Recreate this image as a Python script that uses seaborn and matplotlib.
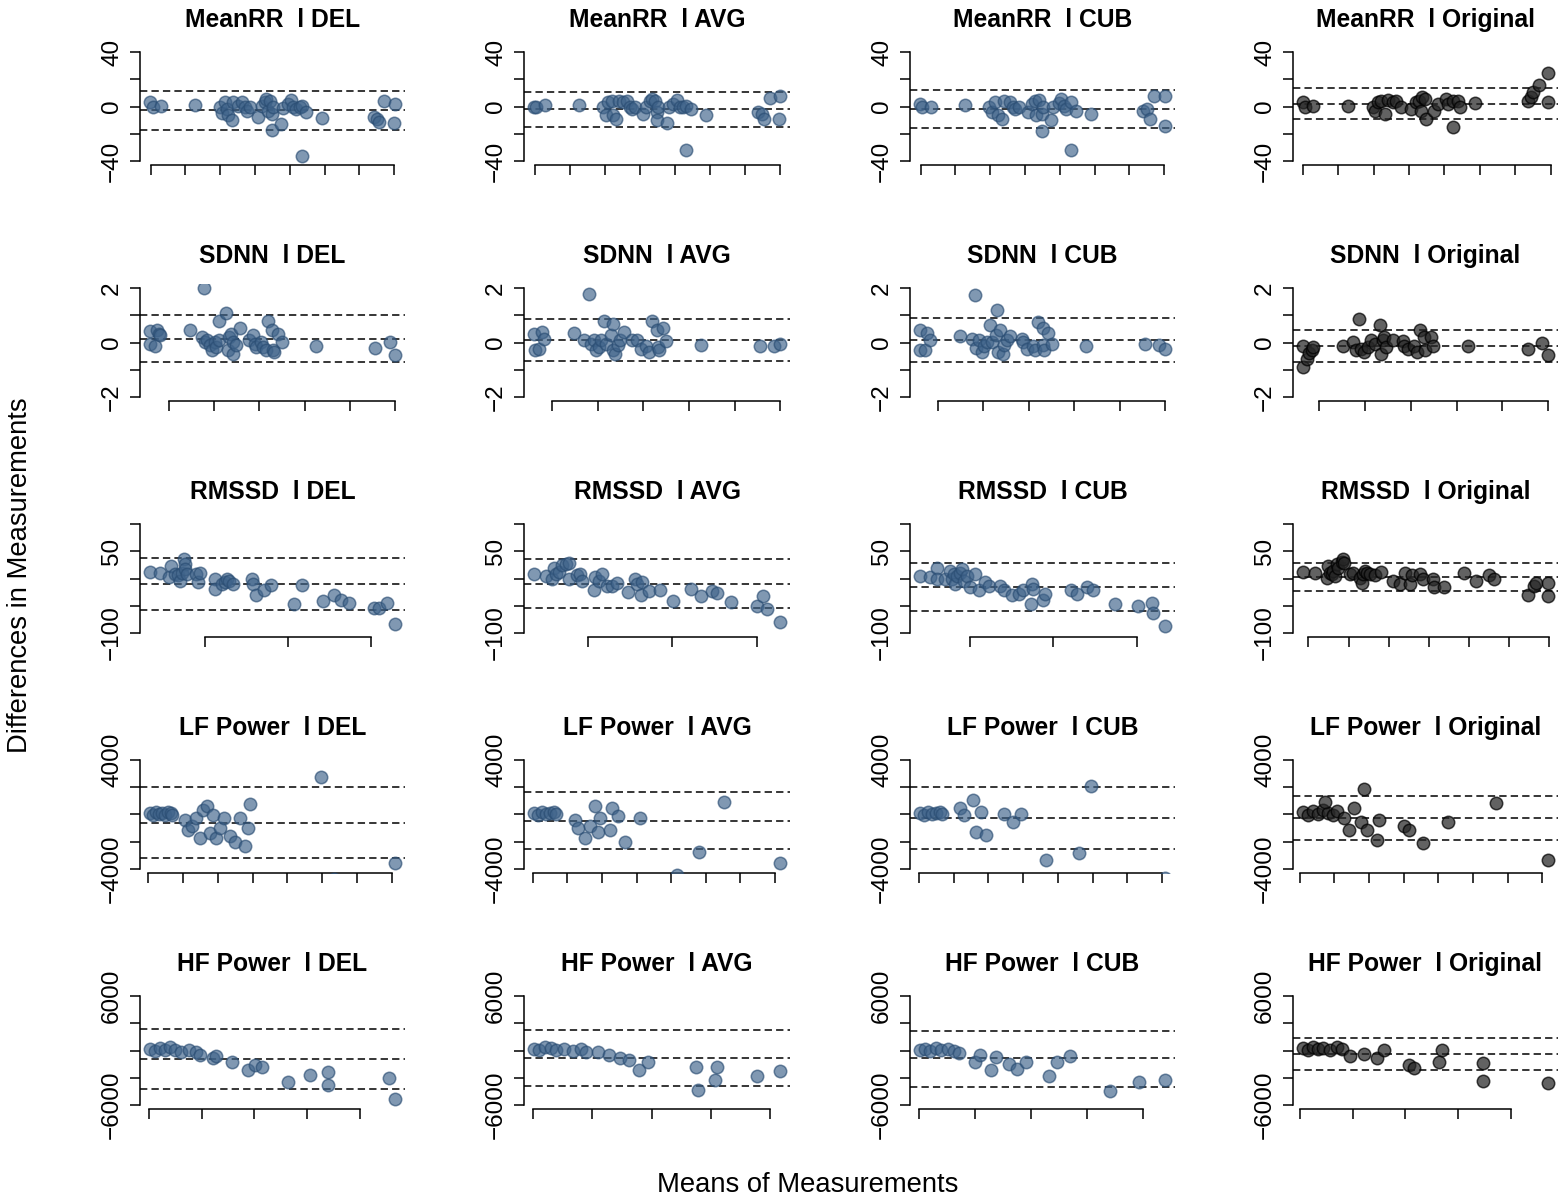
import matplotlib
matplotlib.use("Agg")
import matplotlib.pyplot as plt
import seaborn as sns

sns.set_style("white")
plt.rcParams["font.family"] = ["Liberation Sans", "DejaVu Sans"]
plt.rcParams["text.color"] = "black"

methods = ["DEL", "AVG", "CUB", "Original"]
metrics = ["MeanRR", "SDNN", "RMSSD", "LF Power", "HF Power"]

# ---------------- MeanRR ----------------
meanrr_x = {
    "DEL": [598, 607, 629, 727, 800, 805, 814, 819, 824, 833, 838, 852, 862, 871, 876, 886, 910, 919, 929, 933, 938, 943, 948, 950, 952, 976, 981, 995, 1005, 1010, 1019, 1029, 1035, 1035, 1048, 1092, 1243, 1252, 1257, 1271, 1300, 1303],
    "AVG": [598, 605, 629, 727, 796, 804, 810, 820, 824, 832, 842, 853, 863, 871, 877, 886, 910, 919, 929, 934, 943, 948, 950, 953, 978, 984, 995, 1005, 1014, 1024, 1033, 1033, 1047, 1088, 1238, 1248, 1254, 1271, 1297, 1300],
    "CUB": [598, 605, 629, 727, 798, 805, 814, 824, 833, 841, 857, 867, 871, 884, 910, 919, 929, 933, 941, 948, 950, 952, 976, 981, 998, 1005, 1011, 1019, 1031, 1031, 1048, 1090, 1238, 1252, 1259, 1270, 1303, 1303],
    "Original": [600, 607, 630, 728, 798, 803, 812, 822, 831, 840, 854, 864, 878, 906, 920, 929, 934, 938, 945, 948, 971, 981, 1004, 1009, 1023, 1025, 1037, 1045, 1086, 1235, 1244, 1249, 1268, 1293, 1293],
}
meanrr_y = {
    "DEL": [3.2, -0.5, 0.7, 1.2, -0.5, -5.0, 3.0, -2.0, -6.6, -9.6, 3.2, 0.7, 3.2, -0.5, -3.0, -0.5, -7.4, 0.7, 3.2, 5.6, -3.0, 4.4, -5.4, -17.0, -0.5, -13.0, -1.2, 2.0, 5.0, 0.0, -1.7, 0.0, 0.7, -36.0, -3.7, -8.6, -7.4, -9.0, -11.5, 4.0, -12.3, 1.5],
    "AVG": [0.0, 0.0, 1.0, 1.0, 0.0, -6.6, 3.0, 4.4, -6.6, -9.0, 4.4, 3.0, 4.0, 0.0, -1.7, -0.5, -5.4, 0.0, 4.0, 5.6, 4.4, -4.0, -10.0, 0.0, -12.3, 0.0, 2.0, 5.0, 0.0, -0.5, 0.7, -32.0, -1.7, -6.6, -4.0, -5.4, -9.0, 6.4, -9.0, 7.4],
    "CUB": [1.5, 0.0, 0.0, 1.2, 0.0, -4.0, 3.0, -6.6, -9.0, 4.0, 3.0, 0.0, -1.7, 0.0, -4.0, 1.5, 4.4, -6.6, 5.0, -5.4, -18.0, -0.5, -9.8, 0.0, 2.5, 5.6, 0.7, -1.7, 3.2, -31.6, -3.0, -5.4, -3.0, -1.7, -9.0, 8.0, -14.0, 7.4],
    "Original": [3.2, -0.5, 0.7, 0.7, 0.0, -3.0, 3.0, 4.4, -5.4, 5.0, 3.2, 4.0, -0.5, -1.7, 3.2, 4.4, -3.0, 7.0, 5.6, -9.0, -3.0, 2.0, 5.6, 2.0, 4.4, -14.7, 4.4, -0.5, 2.5, 4.4, 7.0, 10.5, 15.5, 24.5, 3.2],
}
meanrr_lines = {"DEL": (11.3, -2.9, -17.2), "AVG": (11.0, -1.7, -14.7),
                "CUB": (11.8, -2.0, -15.7), "Original": (13.5, 2.0, -9.1)}

# ---------------- SDNN ----------------
sdnn_x = {
    "DEL": [11.7, 12.0, 14.2, 14.9, 15.6, 16.4, 29.5, 34.6, 35.8, 36.0, 37.0, 38.2, 39.0, 40.4, 40.9, 42.2, 42.3, 45.5, 46.3, 46.7, 47.7, 48.2, 48.5, 49.9, 51.4, 55.5, 57.2, 58.0, 58.7, 60.9, 61.6, 62.8, 63.8, 65.7, 66.0, 66.7, 68.2, 70.0, 84.9, 110.9, 117.5, 120.0],
    "AVG": [12.0, 12.3, 14.2, 15.6, 16.6, 29.8, 34.1, 36.3, 37.0, 38.5, 39.2, 40.7, 41.4, 42.6, 43.6, 45.8, 46.5, 46.8, 47.7, 49.1, 49.7, 51.6, 55.2, 57.4, 58.9, 61.0, 62.5, 63.9, 65.8, 66.6, 66.9, 68.8, 69.8, 85.1, 111.3, 117.5, 120.0],
    "CUB": [12.0, 12.3, 14.5, 15.2, 16.4, 29.8, 34.9, 36.4, 36.8, 38.2, 39.3, 40.3, 41.5, 42.9, 43.6, 45.5, 45.8, 46.6, 47.3, 48.5, 49.1, 50.2, 51.7, 56.8, 57.5, 59.0, 61.9, 62.6, 64.1, 66.0, 66.3, 66.6, 68.5, 70.4, 85.3, 111.2, 117.4, 120.0],
    "Original": [12.8, 12.8, 14.5, 15.5, 16.7, 17.4, 30.4, 34.8, 36.2, 37.2, 38.4, 39.6, 41.3, 42.8, 44.2, 46.4, 46.8, 47.8, 48.3, 49.3, 52.2, 56.5, 57.0, 58.7, 61.3, 62.8, 64.2, 65.7, 66.2, 68.6, 69.6, 85.1, 111.2, 117.1, 120.0],
}
sdnn_y = {
    "DEL": [0.43, -0.06, -0.13, 0.45, 0.33, 0.27, 0.45, 0.21, 2.02, 0.02, 0.09, -0.10, -0.28, 0.02, -0.16, 0.80, 0.09, 1.09, -0.28, 0.21, 0.33, -0.40, 0.02, -0.10, 0.55, 0.09, 0.27, -0.04, -0.16, 0.02, -0.16, -0.28, 0.80, 0.48, -0.28, -0.34, 0.33, 0.02, -0.13, -0.18, 0.02, -0.47],
    "AVG": [0.31, -0.26, -0.22, 0.39, 0.15, 0.36, 0.09, 1.80, -0.04, 0.09, -0.28, -0.16, 0.09, 0.79, -0.04, 0.27, 0.70, -0.28, -0.40, -0.10, 0.09, 0.39, 0.11, 0.09, -0.22, -0.13, -0.34, 0.79, 0.48, -0.16, -0.26, 0.55, 0.06, -0.10, -0.13, -0.13, -0.04],
    "CUB": [0.48, -0.26, -0.28, 0.36, 0.11, 0.23, 0.15, 1.74, -0.18, 0.09, -0.34, -0.13, 0.02, 0.64, 0.02, 0.27, 1.19, -0.34, 0.45, -0.40, -0.10, 0.09, 0.23, 0.15, 0.02, -0.22, -0.13, -0.28, 0.76, 0.55, -0.10, -0.28, 0.36, -0.04, -0.13, -0.06, -0.10, -0.22],
    "Original": [-0.13, -0.90, -0.59, -0.38, -0.28, -0.16, -0.13, 0.02, -0.28, 0.86, -0.22, -0.34, -0.16, 0.11, -0.04, 0.64, -0.40, 0.09, 0.21, -0.16, 0.11, 0.06, -0.13, -0.22, -0.13, -0.34, 0.48, 0.21, -0.26, 0.21, -0.13, -0.13, -0.22, 0.00, -0.47],
}
sdnn_lines = {"DEL": (1.00, 0.13, -0.72), "AVG": (0.85, 0.11, -0.67),
              "CUB": (0.91, 0.11, -0.71), "Original": (0.45, -0.12, -0.71)}

# ---------------- RMSSD ----------------
rmssd_x = {
    "DEL": [16.8, 23.2, 28.2, 29.7, 32.1, 33.5, 35.1, 36.1, 37.1, 37.7, 38.1, 39.1, 44.7, 45.5, 46.7, 56.0, 56.0, 60.0, 62.0, 63.4, 64.6, 67.0, 78.5, 78.9, 80.5, 85.3, 89.8, 103.7, 108.1, 121.2, 127.6, 132.0, 136.5, 151.5, 154.5, 159.4, 164.4],
    "AVG": [18.0, 24.9, 28.9, 29.8, 31.2, 32.8, 34.8, 36.8, 38.7, 39.1, 43.7, 45.6, 46.6, 53.6, 54.2, 56.5, 58.5, 61.5, 64.4, 67.4, 73.7, 77.7, 79.2, 81.2, 82.2, 86.2, 92.5, 100.6, 111.3, 116.8, 123.3, 126.7, 135.0, 150.0, 153.8, 156.0, 163.8],
    "CUB": [19.7, 25.7, 30.1, 30.1, 35.1, 37.6, 39.0, 40.0, 41.0, 42.0, 44.0, 45.0, 46.4, 48.0, 50.0, 53.0, 55.0, 59.0, 61.0, 68.0, 70.3, 74.9, 79.5, 81.9, 86.9, 86.3, 87.9, 93.5, 94.9, 110.8, 114.1, 120.3, 123.7, 136.7, 150.6, 159.0, 159.6, 167.1],
    "Original": [17.2, 23.3, 29.1, 29.6, 30.8, 31.6, 32.4, 33.3, 34.1, 34.9, 36.6, 37.4, 37.9, 40.7, 42.4, 45.7, 46.6, 47.4, 48.2, 49.0, 50.7, 53.2, 56.2, 62.3, 65.6, 68.1, 70.6, 71.5, 75.6, 77.3, 82.2, 82.7, 87.7, 97.7, 103.3, 109.9, 112.5, 129.2, 132.5, 133.4, 139.5, 139.5],
}
rmssd_y = {
    "DEL": [11.7, 9.2, 2.5, 22.8, 8.6, 6.2, -3.7, 10.5, 35.0, 25.8, 16.6, 7.4, 8.6, -6.2, 10.5, 0.0, -19.0, -11.0, -6.2, 0.0, -3.7, -11.0, -0.6, -11.0, -29.5, -22.0, -12.3, -46.0, -12.3, -40.6, -30.8, -38.8, -45.0, -54.0, -54.0, -45.0, -83.0],
    "AVG": [8.6, 4.3, 0.0, 18.5, 8.6, 12.3, 24.6, 25.8, 28.9, -1.8, 6.2, 8.6, -4.9, -20.3, 2.5, -3.7, 7.4, -14.2, -14.2, -8.0, -24.6, -1.8, -11.0, -30.8, -6.2, -23.4, -20.3, -40.6, -18.5, -32.6, -23.4, -26.5, -43.0, -51.0, -32.6, -55.4, -80.0],
    "CUB": [5.5, 2.5, 19.7, -1.8, -1.8, 13.5, 0.0, 8.6, -11.0, 4.3, 10.5, 16.6, -3.7, 4.3, -16.0, 7.4, -20.3, -6.2, -14.2, -14.2, -20.3, -30.8, -28.3, -22.0, -9.8, -46.8, -18.5, -38.8, -28.3, -20.3, -28.3, -16.0, -22.0, -46.8, -51.0, -45.0, -63.4, -88.0],
    "Original": [11.7, 10.5, 1.2, 22.8, 10.5, 7.4, 13.5, 4.3, 25.8, 19.7, 30.8, 35.0, 28.9, 8.6, 10.5, 1.2, -8.0, 7.4, 13.5, 10.5, 7.4, 6.2, 12.3, -4.9, -9.8, 10.5, -9.8, 6.2, 8.6, -1.8, 0.0, -16.0, -16.0, 9.2, -4.9, 6.2, 0.0, -30.8, -14.2, -8.0, -8.0, -32.6],
}
rmssd_lines = {"DEL": (36.9, -9.8, -57.2), "AVG": (35.0, -9.8, -54.2),
               "CUB": (28.9, -15.4, -59.0), "Original": (28.9, 2.5, -23.4)}

# ---------------- LF Power ----------------
lf_x = {
    "DEL": [29, 71, 114, 157, 200, 243, 286, 329, 343, 529, 572, 629, 686, 743, 786, 843, 886, 929, 972, 1029, 1086, 1172, 1243, 1315, 1386, 1429, 1458, 2486, 2672, 3544],
    "AVG": [14, 71, 129, 186, 243, 300, 329, 614, 657, 757, 829, 900, 943, 972, 1115, 1143, 1229, 1329, 1543, 2086, 2401, 2758, 3573],
    "CUB": [14, 71, 129, 186, 243, 300, 329, 586, 643, 786, 829, 900, 972, 1229, 1358, 1472, 1829, 2301, 2472, 3544],
    "Original": [43, 114, 186, 257, 329, 400, 472, 543, 357, 643, 714, 786, 886, 929, 972, 1115, 1143, 1500, 1572, 1786, 2143, 2829, 3587],
}
lf_y = {
    "DEL": [110, -37, 184, 37, 110, -37, 184, 110, -37, -404, -1138, -844, -257, -1725, 330, 624, -1358, -37, -1725, -991, -257, -1578, -2019, -257, -2312, -991, 771, 2753, -4750, -3560],
    "AVG": [110, -37, 184, 37, 110, 184, 37, -404, -991, -1725, -844, 624, -1284, -257, -1138, 477, -110, -2019, -257, -4441, -2753, 918, -3560],
    "CUB": [110, -37, 184, 37, 110, 184, 37, 477, -37, 1064, -1284, 184, -1505, 37, -551, 37, -3340, -2826, 2092, -4661],
    "Original": [184, -37, 257, 37, 330, 110, -37, 257, 918, -257, -1138, 477, -551, 1872, -1138, -1872, -404, -844, -1138, -2092, -551, 844, -3340],
}
lf_lines = {"DEL": (2019, -624, -3193), "AVG": (1652, -477, -2532),
            "CUB": (2019, -257, -2532), "Original": (1358, -257, -1872)}

# ---------------- HF Power ----------------
hf_x = {
    "DEL": [38, 226, 415, 603, 792, 980, 1206, 1508, 1772, 1960, 2451, 2564, 3167, 3770, 4034, 4298, 5278, 6107, 6786, 6786, 9123, 9350],
    "AVG": [38, 226, 415, 603, 792, 1056, 1357, 1621, 1810, 2187, 2564, 2941, 3242, 3582, 3883, 5504, 5580, 6145, 6221, 7540, 8332],
    "CUB": [38, 226, 415, 603, 792, 1056, 1244, 1433, 2000, 2187, 2564, 2752, 3205, 3506, 3808, 4637, 4939, 5391, 6824, 7842, 8784],
    "Original": [113, 302, 490, 679, 867, 1131, 1395, 1583, 1885, 2451, 2941, 3205, 4147, 4336, 5278, 5391, 6937, 6937, 9425],
}
hf_y = {
    "DEL": [165, -55, 275, 55, 385, 55, -165, 55, -165, -495, -825, -605, -1265, -2145, -1595, -1815, -3465, -2695, -2365, -3795, -3025, -5335],
    "AVG": [165, 55, 385, 275, 55, 165, -55, 165, -165, -165, -495, -825, -1045, -2145, -1265, -1815, -4345, -3245, -1815, -2805, -2255],
    "CUB": [55, 165, -55, 275, 55, 165, -55, -275, -1265, -495, -2145, -715, -1485, -2035, -1265, -2805, -1265, -605, -4455, -3465, -3245],
    "Original": [275, 55, 385, 165, 275, 55, 385, 165, -605, -385, -825, 55, -1595, -1925, -1265, 55, -1375, -3355, -3575],
}
hf_lines = {"DEL": (2365, -935, -4235), "AVG": (2255, -825, -3905),
            "CUB": (2145, -825, -4015), "Original": (1375, -385, -2145)}

# axis settings per metric: y range, y ticks, y tick labels, x tick step
y_ranges = [(-40, 40), (-2, 2), (-100, 100), (-4000, 4000), (-6000, 6000)]
y_ticks = [[-40, -20, 0, 20, 40], [-2, -1, 0, 1, 2], [-100, -50, 0, 50, 100],
           [-4000, -2000, 0, 2000, 4000], [-6000, -3000, 0, 3000, 6000]]
y_ticklabels = [["\u221240", "", "0", "", "40"], ["\u22122", "", "0", "", "2"],
                ["\u2212100", "", "", "50", ""], ["\u22124000", "", "", "", "4000"],
                ["\u22126000", "", "", "", "6000"]]
x_tick_steps = [100, 20, 50, 500, 2000]
x_tick_steps_original = [100, 20, 20, 500, 2000]

all_x = [meanrr_x, sdnn_x, rmssd_x, lf_x, hf_x]
all_y = [meanrr_y, sdnn_y, rmssd_y, lf_y, hf_y]
all_lines = [meanrr_lines, sdnn_lines, rmssd_lines, lf_lines, hf_lines]

blue_fill = "#3f638a"
blue_edge = "#2a4d73"
grey_fill = "#262626"
grey_edge = "#000000"

W, H = 1561, 1202
fig = plt.figure(figsize=(W / 100, H / 100), dpi=100)

col_px = [(140, 405), (524, 790), (910, 1175), (1293, 1558)]
row_top_px = [47.6, 283.7, 519.6, 755.6, 991.6]
panel_h = 117.8

for r, metric in enumerate(metrics):
    for c, method in enumerate(methods):
        x0, x1 = col_px[c]
        top = row_top_px[r]
        ax = fig.add_axes([x0 / W, 1 - (top + panel_h) / H, (x1 - x0) / W, panel_h / H])
        xs = all_x[r][method]
        ys = all_y[r][method]
        orig = method == "Original"
        sns.scatterplot(x=xs, y=ys, ax=ax, s=80,
                        color=grey_fill if orig else blue_fill,
                        edgecolor=grey_edge if orig else blue_edge,
                        linewidth=1.1, alpha=0.72 if orig else 0.66,
                        legend=False, zorder=3)
        for v in all_lines[r][method]:
            ax.axhline(v, color="black", lw=1.1, ls=(0, (4.8, 2.7)), zorder=2)

        # R-style 4% extension of the data / axis range
        lo, hi = min(xs), max(xs)
        pad = 0.04 * (hi - lo)
        ax.set_xlim(lo - pad, hi + pad)
        ylo, yhi = y_ranges[r]
        ypad = 0.04 * (yhi - ylo)
        ax.set_ylim(ylo - ypad, yhi + ypad)

        step = x_tick_steps_original[r] if orig else x_tick_steps[r]
        first = -(-(lo - pad) // step) * step
        xt = []
        t = first
        while t <= hi + pad:
            xt.append(t)
            t += step
        ax.set_xticks(xt)
        ax.set_xticklabels([""] * len(xt))
        ax.set_yticks(y_ticks[r])
        ax.set_yticklabels(y_ticklabels[r], rotation=90, va="center", fontsize=17.5)

        for side in ("top", "right"):
            ax.spines[side].set_visible(False)
        ax.spines["left"].set_bounds(y_ticks[r][0], y_ticks[r][-1])
        ax.spines["bottom"].set_bounds(xt[0], xt[-1])
        for side in ("left", "bottom"):
            ax.spines[side].set_linewidth(1.1)
            ax.spines[side].set_color("black")
        ax.tick_params(axis="both", which="major", direction="out", length=7.2, width=1.1,
                       color="black", labelcolor="black", bottom=True, left=True)
        ax.tick_params(axis="y", pad=5)
        ax.set_xlabel("")
        ax.set_ylabel("")
        ax.text(0.5, 1 + 20.5 / panel_h, f"{metric}  l {method}", transform=ax.transAxes,
                ha="center", va="baseline", fontsize=17.7, fontweight="bold",
                color="black")
        ax.patch.set_alpha(0)

fig.text(20 / W, 1 - 575 / H, "Differences in Measurements", rotation=90,
         ha="center", va="center", fontsize=19.7, color="black")
fig.text(808 / W, 1 - 1185 / H, "Means of Measurements",
         ha="center", va="center", fontsize=19.7, color="black")

fig.savefig("out.png", dpi=100, facecolor="white")
